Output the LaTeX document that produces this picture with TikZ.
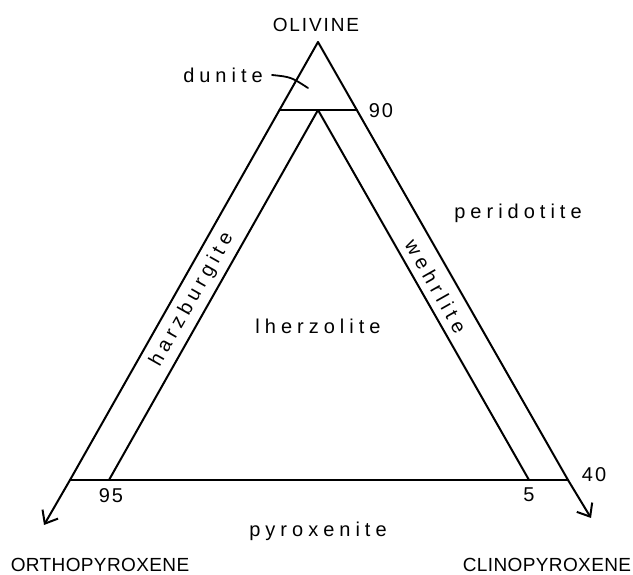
\documentclass[tikz,border=0pt]{standalone}
\usepackage{fontspec}
\setmainfont{Liberation Sans}
\newfontfamily\capsfont[LetterSpace=2]{Liberation Sans}
\newfontfamily\olfont[LetterSpace=10]{Liberation Sans}
\newfontfamily\lowfont[LetterSpace=25]{Liberation Sans}
\newfontfamily\numfont[LetterSpace=10]{Liberation Sans}
\usetikzlibrary{arrows.meta,calc}
\tikzset{
  edge/.style={line width=2pt, line cap=round, line join=round},
  arrowedge/.style={edge, -{Straight Barb[length=11pt,width=18pt,line width=2pt]}},
  caplabel/.style={font=\fontsize{19}{22}\selectfont\capsfont, inner sep=0pt, anchor=base},
  ollabel/.style={font=\fontsize{19}{22}\selectfont\olfont, inner sep=0pt, anchor=base},
  lowlabel/.style={font=\fontsize{20}{22}\selectfont\lowfont, inner sep=0pt, anchor=base},
  numlabel/.style={font=\fontsize{20}{22}\selectfont\numfont, inner sep=0pt, anchor=base},
  bandlabel/.style={font=\fontsize{20}{22}\selectfont\lowfont, inner sep=0pt}
}
\begin{document}
\begin{tikzpicture}[x=1pt,y=1pt]
\useasboundingbox (0,0) rectangle (633,575);
% outer corners
\coordinate (O) at (318,533);
\coordinate (L) at (70,95);
\coordinate (R) at (568,95);
\coordinate (Ltip) at (44,50);
\coordinate (Rtip) at (591,57);
% 90 line
\coordinate (A90) at ($(O)!0.1553!(L)$);
\coordinate (B90) at ($(O)!0.1553!(R)$);
% inner lines
\coordinate (I) at (318,465);
\coordinate (IL) at (109,95);
\coordinate (IR) at (529,95);
% outer sides with arrows
\draw[edge] (O) -- (L);
\draw[arrowedge] (L) -- (Ltip);
\draw[edge] (O) -- (R);
\draw[arrowedge] (R) -- (Rtip);
% bottom line
\draw[edge] (L) -- (R);
% 90 line
\draw[edge] (A90) -- (B90);
% inner triangle sides
\draw[edge] (I) -- (IL);
\draw[edge] (I) -- (IR);
% labels
\node[ollabel] (olivine) at (316,543) {OLIVINE};
\node[lowlabel] (dunite) at (223,492) {dunite};
\coordinate (dunstart) at (272,500);
\coordinate (dunend) at (308,487);
\draw[line width=1.8pt, line cap=round] (dunstart) .. controls (291,498) .. (dunend);
\node[numlabel] (n90) at (381,457) {90};
\node[lowlabel] (peridotite) at (518,356) {peridotite};
\node[lowlabel] (lherzolite) at (318,241) {lherzolite};
\node[bandlabel, rotate=60.5] (harz) at (192,275) {harzburgite};
\node[bandlabel, rotate=-60.5] (wehr) at (436,289) {wehrlite};
\node[lowlabel] (pyroxenite) at (318,38) {pyroxenite};
\node[numlabel] (n95) at (111,72) {95};
\node[numlabel] (n5) at (529,73) {5};
\node[numlabel] (n40) at (594,93) {40};
\node[caplabel] (opx) at (100,3) {ORTHOPYROXENE};
\node[caplabel] (cpx) at (547,3) {CLINOPYROXENE};
\end{tikzpicture}
\end{document}
